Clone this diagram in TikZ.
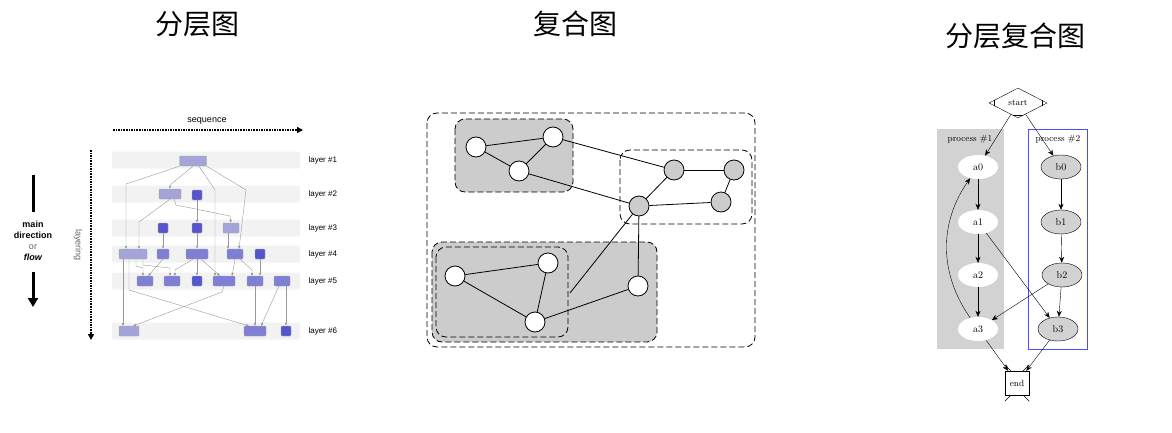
\documentclass[tikz,border=0pt]{standalone}
\usepackage{fontspec}
\newfontfamily\cjk{Noto Sans CJK SC}
\newfontfamily\arial{Liberation Sans}
\usetikzlibrary{shapes.geometric,arrows.meta}

\definecolor{lightbox}{HTML}{A4A4D8}
\definecolor{midbox}{HTML}{7F7FD4}
\definecolor{darkbox}{HTML}{5656CC}
\definecolor{band}{HTML}{F2F2F2}

\tikzset{
  title/.style={font=\cjk\fontsize{28}{30}\selectfont},
  lbox/.style={draw=gray!70,fill=#1,rounded corners=1pt,minimum height=10pt,inner sep=0pt},
  ledge/.style={gray!80,thin,-{Latex[length=3pt,width=2.5pt]}},
  cnode/.style={circle,draw,thick,fill=white,minimum size=20pt,inner sep=0pt},
  gnode/.style={cnode,fill=gray!40},
  cedge/.style={thick},
  cluster/.style={draw,thick,dashed,dash pattern=on 6pt off 3pt,rounded corners=10pt},
  wnode/.style={ellipse,fill=white,minimum width=40pt,minimum height=24pt,inner sep=0pt,font=\fontsize{10}{10}\selectfont},
  bnode/.style={wnode,draw,fill=gray!35},
  gedge/.style={-{Stealth[length=6pt,width=5pt]}},
}

\begin{document}
\begin{tikzpicture}[x=1pt,y=-1pt]
  \useasboundingbox (0,0) rectangle (1172,433);

  \node (T1) at (197,24) [title] {分层图};
  \node (T2) at (575,24) [title] {复合图};
  \node (T3) at (1015,36) [title] {分层复合图};

  % layered graph
  \foreach \y/\l in {160/1,194/2,228/3,254/4,281/5,331/6} {
    \fill[band,rounded corners=2pt] (112,\y-8.5) rectangle (300,\y+8.5);
    \node (lay\l) at (305,\y) [right,font=\arial\fontsize{8}{8}\selectfont] {layer \#\l};
  }
  \node (seq) at (207,121) [font=\arial\fontsize{9}{9}\selectfont] {sequence};
  \draw[densely dotted,line width=1.6pt,-{Triangle[length=6pt,width=6pt]}] (113,130) -- (303,130);
  \draw[densely dotted,line width=1.6pt,-{Triangle[length=6pt,width=6pt]}] (91,150) -- (91,340);
  \node (lyr) at (78,245) [rotate=-90,font=\arial\fontsize{9}{9}\selectfont,text=gray!80!black] {layering};
  \draw[line width=3pt] (33,175) -- (33,212);
  \draw[line width=3pt,-{Triangle[length=9pt,width=10pt]}] (33,272) -- (33,307);
  \node (mdir) at (33,241) [align=center,font=\arial\fontsize{9}{11}\selectfont]
    {\textbf{main}\\\textbf{direction}\\{\color{gray!80!black}or}\\\textbf{\itshape flow}};

  \node (n1) at (193,161) [lbox=lightbox,minimum width=27pt] {};
  \node (n21) at (170,194) [lbox=lightbox,minimum width=22pt] {};
  \node (n22) at (197,195) [lbox=darkbox,minimum width=10pt] {};
  \node (n31) at (163,228) [lbox=darkbox,minimum width=10pt] {};
  \node (n32) at (197,228) [lbox=darkbox,minimum width=10pt] {};
  \node (n33) at (231,228) [lbox=lightbox,minimum width=16pt] {};
  \node (n41) at (133,254) [lbox=lightbox,minimum width=28pt] {};
  \node (n42) at (163,254) [lbox=midbox,minimum width=12pt] {};
  \node (n43) at (197,254) [lbox=midbox,minimum width=22pt] {};
  \node (n44) at (235,254) [lbox=midbox,minimum width=16pt] {};
  \node (n45) at (260,254) [lbox=darkbox,minimum width=10pt] {};
  \node (n51) at (145,281) [lbox=midbox,minimum width=16pt] {};
  \node (n52) at (172,281) [lbox=midbox,minimum width=16pt] {};
  \node (n53) at (197,281) [lbox=darkbox,minimum width=10pt] {};
  \node (n54) at (224,281) [lbox=midbox,minimum width=22pt] {};
  \node (n55) at (255,281) [lbox=midbox,minimum width=16pt] {};
  \node (n56) at (282,281) [lbox=midbox,minimum width=16pt] {};
  \node (n61) at (129,331) [lbox=lightbox,minimum width=20pt] {};
  \node (n62) at (255,331) [lbox=midbox,minimum width=22pt] {};
  \node (n63) at (286,331) [lbox=darkbox,minimum width=10pt] {};

  \draw[ledge] (n1.south) -- (170,185) -- (n21.north);
  \draw[ledge] (n1.south west) -- (126,184) -- (126,249);
  \draw[ledge] (n1.south) ++(6,0) -- (215,190) -- (215,276);
  \draw[ledge] (n1.south east) -- (246,190) -- (239,249);
  \draw[ledge] (n21.south) -- (139,222) -- (139,249);
  \draw[ledge] (n21.south) ++(4,0) -- (176,205) -- (230,216) -- (n33.north);
  \draw[ledge] (n22) -- (n32);
  \draw[ledge] (n31) -- (n42);
  \draw[ledge] (n32) -- (n43);
  \draw[ledge] (n33.south) ++(-3,0) -- (228,249);
  \draw[ledge] (123,259) -- (123,326);
  \draw[ledge] (129,259) -- (129,290) -- (249,326);
  \draw[ledge] (136,259) -- (136,266) -- (143,268) -- (143,276);
  \draw[ledge] (143,259) -- (143,265) -- (170,268) -- (170,276);
  \draw[ledge] (n42.south) -- (148,276);
  \draw[ledge] (193,259) -- (175,270) -- (175,276);
  \draw[ledge] (n43) -- (n53);
  \draw[ledge] (201,259) -- (220,276);
  \draw[ledge] (n44.south) -- (232,276);
  \draw[ledge] (240,259) -- (252,270) -- (252,276);
  \draw[ledge] (n45) -- (n55.north -| n45);
  \draw[ledge] (224,286) -- (222,292) -- (133,326);
  \draw[ledge] (n55) -- (255,326);
  \draw[ledge] (279,286) -- (261,326);
  \draw[ledge] (286,286) -- (n63);

  % compound graph
  \draw[cluster] (427,113) rectangle (755,347);
  \draw[cluster,fill=gray!40] (455,119) rectangle (573,192);
  \draw[cluster] (620,150) rectangle (752,224);
  \draw[cluster,fill=gray!40] (432,242) rectangle (657,342);
  \draw[cluster] (436,247) rectangle (568,337);

  \node (ca) at (476,147) [cnode] {};
  \node (cb) at (553,137) [cnode] {};
  \node (cc) at (519,171) [cnode] {};
  \node (cd) at (674,170) [gnode] {};
  \node (ce) at (734,170) [gnode] {};
  \node (cf) at (721,202) [gnode] {};
  \node (cg) at (639,206) [gnode] {};
  \node (ch) at (455,276) [cnode] {};
  \node (ci) at (548,263) [cnode] {};
  \node (cj) at (535,322) [cnode] {};
  \node (ck) at (638,286) [cnode] {};
  \coordinate (cin) at (570,293);

  \foreach \u/\v in {ca/cb,ca/cc,cc/cb,cb/cd,cc/cg,cg/cd,cd/ce,ce/cf,cf/cg,cg/ck,ch/ci,ch/cj,ci/cj,cj/ck,cg/cin}
    \draw[cedge] (\u) -- (\v);

  % layered compound graph
  \fill[gray!35] (937,129) rectangle (1004,349);
  \draw[blue!70,thin] (1028,129) rectangle (1087,349);
  \node (p1) at (970,139) [font=\fontsize{9}{9}\selectfont] {process \#1};
  \node (p2) at (1058,139) [font=\fontsize{9}{9}\selectfont] {process \#2};

  \node (start) at (1018,103) [diamond,draw,aspect=2,minimum width=58pt,minimum height=30pt,inner sep=0pt,font=\fontsize{9}{9}\selectfont] {start};
  \draw (start.west) ++(5,-3) -- ++(0,6);
  \draw (start.east) ++(-5,-3) -- ++(0,6);
  \draw (start.south) ++(-5,-3) -- ++(10,0);
  \node (a0) at (978,167) [wnode] {a0};
  \node (a1) at (978,222) [wnode] {a1};
  \node (a2) at (978,275) [wnode] {a2};
  \node (a3) at (978,329) [wnode] {a3};
  \node (b0) at (1061,167) [bnode] {b0};
  \node (b1) at (1061,222) [bnode] {b1};
  \node (b2) at (1062,275) [bnode] {b2};
  \node (b3) at (1058,329) [bnode] {b3};
  \node (end) at (1017,383) [draw,minimum size=24pt,inner sep=0pt,font=\fontsize{9}{9}\selectfont] {end};
  \draw (end.north west) ++(0,-6) -- ++(6,6);
  \draw (end.north east) ++(0,-6) -- ++(-6,6);
  \draw (end.south west) ++(0,6) -- ++(6,-6);
  \draw (end.south east) ++(0,6) -- ++(-6,-6);

  \foreach \u/\v in {start/a0,start/b0,a0/a1,a1/a2,a2/a3,a1/b3,b2/a3,b0/b1,b1/b2,b2/b3,a3/end,b3/end}
    \draw[gedge] (\u) -- (\v);
  \draw[gedge] (a3) to[bend left=35] (a0);

\end{tikzpicture}
\end{document}
